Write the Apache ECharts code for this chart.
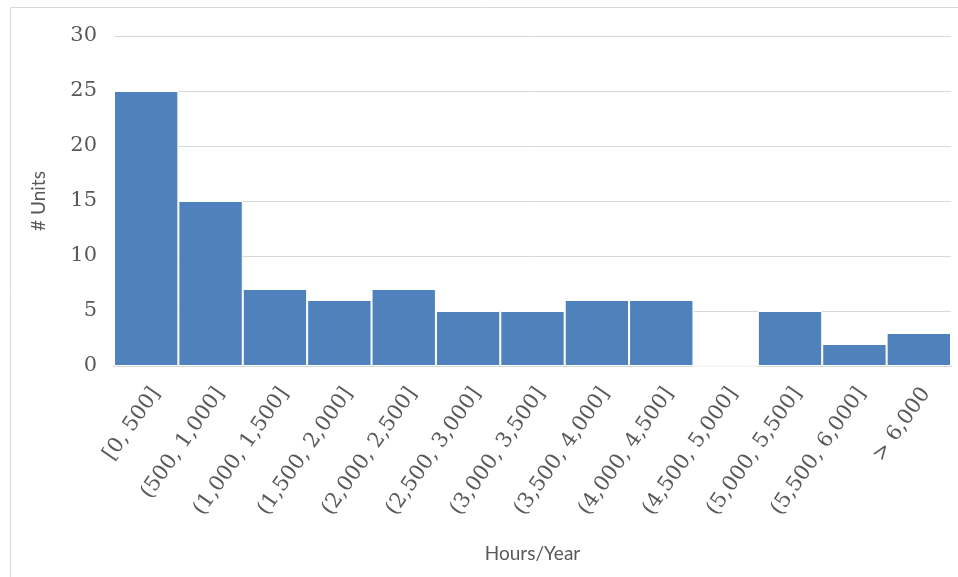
<!DOCTYPE html>
<html>
<head>
<meta charset="utf-8">
<style>
html,body{margin:0;padding:0;background:#fff;}
#chart{width:958px;height:577px;}
</style>
<script src="https://cdn.jsdelivr.net/npm/echarts@6/dist/echarts.min.js"></script>
</head>
<body>
<div id="chart"></div>
<script>
const categories = ["[0, 500]", "(500, 1,000]", "(1,000, 1,500]", "(1,500, 2,000]", "(2,000, 2,500]", "(2,500, 3,000]", "(3,000, 3,500]", "(3,500, 4,000]", "(4,000, 4,500]", "(4,500, 5,000]", "(5,000, 5,500]", "(5,500, 6,000]", "> 6,000"];
const units = [25, 15, 7, 6, 7, 5, 5, 6, 6, 0, 5, 2, 3];
const yTicks = [0, 5, 10, 15, 20, 25, 30];

const labelFont = {fontFamily: 'DejaVu Serif', color: '#595959'};
const chart = echarts.init(document.getElementById('chart'), null, {renderer: 'canvas'});
chart.setOption({
  animation: false,
  backgroundColor: '#fff',
  graphic: [{
    type: 'polyline',
    shape: {points: [[10.5, 577], [10.5, 7.5], [958, 7.5]]},
    style: {stroke: '#d9d9d9', lineWidth: 1, fill: null}
  }],
  grid: [
    {left: 114, right: 7, top: 36, bottom: 211, containLabel: false},
    {left: 124, right: -3, top: 36, bottom: 211, containLabel: false}
  ],
  xAxis: [{
    type: 'category',
    gridIndex: 0,
    data: categories,
    boundaryGap: true,
    name: 'Hours/Year',
    nameLocation: 'middle',
    nameGap: 178,
    nameTextStyle: {fontFamily: 'Lato', fontSize: 19, color: '#595959'},
    axisLine: {lineStyle: {color: '#d9d9d9', width: 2}},
    axisTick: {show: false},
    axisLabel: {show: false}
  }, {
    type: 'category',
    gridIndex: 1,
    data: categories,
    boundaryGap: true,
    axisLine: {show: false},
    axisTick: {show: false},
    axisLabel: Object.assign({interval: 0, rotate: 55, margin: 24, fontSize: 21}, labelFont)
  }],
  yAxis: [{
    type: 'value',
    gridIndex: 0,
    min: yTicks[0], max: yTicks[yTicks.length - 1], interval: 5,
    name: '# Units',
    nameLocation: 'middle',
    nameGap: 66,
    nameTextStyle: {fontFamily: 'Lato', fontSize: 19, color: '#595959'},
    axisLine: {show: false},
    axisTick: {show: false},
    splitLine: {lineStyle: {color: '#d9d9d9', width: 1}},
    axisLabel: Object.assign({margin: 17, fontSize: 21}, labelFont)
  }, {
    type: 'value',
    gridIndex: 1,
    min: yTicks[0], max: yTicks[yTicks.length - 1], interval: 5,
    show: false
  }],
  series: [{
    type: 'bar',
    xAxisIndex: 0,
    yAxisIndex: 0,
    data: units,
    barCategoryGap: '0%',
    itemStyle: {color: '#4f81bd', borderColor: '#ffffff', borderWidth: 1}
  }]
});
</script>
</body>
</html>
